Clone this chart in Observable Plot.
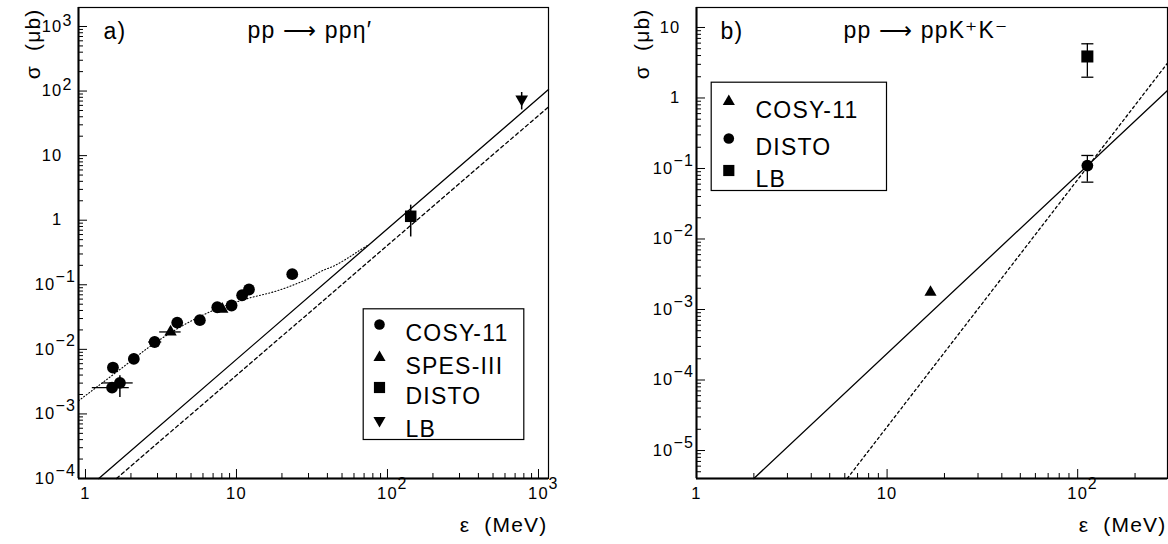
<!DOCTYPE html>
<html><head><meta charset="utf-8">
<script src="https://cdn.jsdelivr.net/npm/d3@7"></script>
<script src="https://cdn.jsdelivr.net/npm/@observablehq/plot@0.6"></script>
<style>
html,body{margin:0;padding:0;background:#fff;}
#wrap{display:flex;width:1168px;height:544px;}
#wrap svg{display:block;}
#wrap svg text{letter-spacing:1.2px;}
</style></head><body><div id="wrap"></div>
<script>
// ================= Panel a: pp -> pp eta' =================
const cosyA_eps   = [1.50, 1.52, 1.69, 2.09, 2.87, 4.05, 5.72, 7.46, 9.28, 10.9, 12.1, 23.4];
const cosyA_sig   = [0.00256, 0.00523, 0.00302, 0.00711, 0.0130, 0.0260, 0.0283, 0.0449, 0.0478, 0.0689, 0.0845, 0.146];
const cosyA_epsLo = [1.11, null, 1.29, null, 2.62, null, null, null, null, null, null, null];
const cosyA_epsHi = [1.95, null, 2.07, null, 3.20, null, null, null, null, null, null, null];
const cosyA_sigLo = [null, null, 0.0018, 0.0060, 0.0106, null, null, null, null, null, null, null];
const cosyA_sigHi = [null, null, 0.0039, 0.0085, 0.0155, null, null, null, null, null, null, null];

const spesA_eps   = [3.66, 8.05];
const spesA_sig   = [0.0186, 0.0420];
const spesA_epsLo = [3.10, null];
const spesA_epsHi = [4.30, null];

const distoA_eps = [142.5];
const distoA_sig = [1.15];
const distoA_lo  = [0.55];
const distoA_hi  = [1.71];

const lbA_eps = [774];
const lbA_sig = [74.8];
const lbA_lo  = [51];
const lbA_hi  = [95];

const solidA_eps  = [1.225, 1165];
const solidA_sig  = [1e-4, 105.7];
const dashedA_eps = [1.605, 1165];
const dashedA_sig = [1e-4, 56.9];
const dottedA_eps = [0.9, 1.79, 2.56, 4.26, 7.08, 11.8, 19, 24, 30, 36, 45, 54, 64, 74];
const dottedA_sig = [0.0016, 0.0054, 0.0103, 0.0223, 0.0404, 0.061, 0.082, 0.100, 0.125, 0.160, 0.200, 0.255, 0.330, 0.410];

const xDomainA = [0.899, 1165];
const yDomainA = [1e-4, 1968];
const xTicksA = [1, 10, 100, 1000];
const xTickBaseA = ["1", "10", "10", "10"];
const xTickSupA  = ["", "", "2", "3"];
const yTicksA = [1e-4, 1e-3, 1e-2, 1e-1, 1, 10, 100, 1000];
const yTickBaseA = ["10", "10", "10", "10", "1", "10", "10", "10"];
const yTickSupA  = ["−4", "−3", "−2", "−1", "", "", "2", "3"];
const legendA_labels = ["COSY-11", "SPES-III", "DISTO", "LB"];
const titleA = "pp ⟶ ppη′";
const tagA = "a)";

// ================= Panel b: pp -> pp K+ K- =================
const cosyB_eps = [16.9];
const cosyB_sig = [0.00176];
const distoB_eps = [112.4];
const distoB_sig = [0.110];
const distoB_lo  = [0.064];
const distoB_hi  = [0.153];
const lbB_eps = [112.4];
const lbB_sig = [3.88];
const lbB_lo  = [1.97];
const lbB_hi  = [5.87];

const solidB_eps  = [2.0, 296];
const solidB_sig  = [4.01e-6, 1.28];
const dashedB_eps = [6.18, 296];
const dashedB_sig = [4.01e-6, 3.12];

const xDomainB = [1, 296];
const yDomainB = [4.01e-6, 19.2];
const xTicksB = [1, 10, 100];
const xTickBaseB = ["1", "10", "10"];
const xTickSupB  = ["", "", "2"];
const yTicksB = [1e-5, 1e-4, 1e-3, 1e-2, 1e-1, 1, 10];
const yTickBaseB = ["10", "10", "10", "10", "10", "1", "10"];
const yTickSupB  = ["−5", "−4", "−3", "−2", "−1", "", ""];
const legendB_labels = ["COSY-11", "DISTO", "LB"];
const titleB = "pp ⟶ ppK⁺K⁻";
const tagB = "b)";

// ================= helpers =================
const FONT = "'Liberation Sans', Arial, Helvetica, sans-serif";
const rows = (xs, ys) => xs.map((x, i) => ({x, y: ys[i]}));
const triDown = {
  draw(ctx, size) {
    const y = Math.sqrt(size / (Math.sqrt(3) * 3));
    ctx.moveTo(0, 2 * y);
    ctx.lineTo(-Math.sqrt(3) * y, -y);
    ctx.lineTo(Math.sqrt(3) * y, -y);
    ctx.closePath();
  }
};
const capSym = {
  draw(ctx, size) {
    const w = Math.sqrt(size);
    ctx.moveTo(-w, 0);
    ctx.lineTo(w, 0);
  }
};
function minorTicks([lo, hi]) {
  const out = [];
  for (let e = Math.floor(Math.log10(lo)); e <= Math.ceil(Math.log10(hi)); e++) {
    for (let k = 2; k <= 9; k++) {
      const v = k * Math.pow(10, e);
      if (v > lo && v < hi) out.push(v);
    }
  }
  return out;
}

function panel(cfg) {
  const W = 584, H = 544;
  const FW = W - cfg.ml - cfg.mr, FH = H - cfg.mt - cfg.mb;
  const yl = cfg.yTicks.map((v, i) => ({v, base: cfg.yBase[i], sup: cfg.ySup[i], neg: cfg.ySup[i].startsWith("−")}));
  const xl = cfg.xTicks.map((v, i) => ({v, base: cfg.xBase[i], sup: cfg.xSup[i]}));
  const marks = [
    // frame
    Plot.frame({stroke: "black", strokeWidth: 1.2}),
    Plot.ruleX([cfg.xDomain[0]], {stroke: "black", strokeWidth: 2}),
    Plot.ruleY([cfg.yDomain[0]], {stroke: "black", strokeWidth: 2}),
    // inward ticks
    Plot.tickY(cfg.yTicks, {y: d => d, insetRight: FW - 9, stroke: "black", strokeWidth: 1}),
    Plot.tickY(minorTicks(cfg.yDomain), {y: d => d, insetRight: FW - 5, stroke: "black", strokeWidth: 1}),
    Plot.tickX(cfg.xTicks, {x: d => d, insetTop: FH - 9, stroke: "black", strokeWidth: 1}),
    Plot.tickX(minorTicks(cfg.xDomain), {x: d => d, insetTop: FH - 5, stroke: "black", strokeWidth: 1}),
    // tick labels
    Plot.text(yl.filter(d => !d.neg), {y: "v", text: "base", frameAnchor: "left", dx: -16, textAnchor: "end", fontSize: 16.5}),
    Plot.text(yl.filter(d => d.neg), {y: "v", text: "base", frameAnchor: "left", dx: -23, textAnchor: "end", fontSize: 16.5}),
    Plot.text(yl.filter(d => d.sup && !d.neg), {y: "v", text: "sup", frameAnchor: "left", dx: -16, dy: -6, textAnchor: "start", fontSize: 16}),
    Plot.text(yl.filter(d => d.neg), {y: "v", text: "sup", frameAnchor: "left", dx: -23, dy: -8, textAnchor: "start", fontSize: 16}),
    Plot.text(xl, {x: "v", text: "base", frameAnchor: "bottom", dy: 20, textAnchor: "middle", fontSize: 16.5}),
    Plot.text(xl.filter(d => d.sup), {x: "v", text: "sup", frameAnchor: "bottom", dx: 10, dy: 10, textAnchor: "start", fontSize: 16}),
    // axis titles
    Plot.text(["ε  (MeV)"], {text: d => d, frameAnchor: "bottom-right", dx: -1, dy: 53, textAnchor: "end", fontSize: 21}),
    Plot.text(["σ  (μb)"], {text: d => d, frameAnchor: "top-left", dx: cfg.ylabDx, dy: 1, rotate: -90, textAnchor: "end", fontSize: 21}),
    // titles
    Plot.text([cfg.tag], {text: d => d, frameAnchor: "top-left", dx: cfg.tagDx, dy: 31, lineAnchor: "bottom", textAnchor: "start", fontSize: 23}),
    Plot.text([cfg.title], {text: d => d, frameAnchor: "top-left", dx: cfg.titleDx, dy: 30, lineAnchor: "bottom", textAnchor: "start", fontSize: 23}),
    ...cfg.dataMarks,
    // legend
    Plot.frame({stroke: "black", strokeWidth: 1.2, ...cfg.legendBox}),
    ...cfg.legend.flatMap(e => [
      Plot.dot([0], {frameAnchor: "top-left", dx: cfg.legendMarkDx, dy: e.dy, symbol: e.symbol, r: e.r, fill: "black", stroke: "none"}),
      Plot.text([e.label], {text: d => d, frameAnchor: "top-left", dx: cfg.legendTextDx, dy: e.dy, textAnchor: "start", fontSize: 23})
    ])
  ];
  return Plot.plot({
    width: W, height: H,
    marginLeft: cfg.ml, marginRight: cfg.mr, marginTop: cfg.mt, marginBottom: cfg.mb,
    x: {type: "log", domain: cfg.xDomain, axis: null},
    y: {type: "log", domain: cfg.yDomain, axis: null},
    style: {fontFamily: FONT, fontSize: "16px", background: "white", color: "black", overflow: "visible"},
    marks
  });
}

// ---- panel a marks
const cosyA = cosyA_eps.map((x, i) => ({x, y: cosyA_sig[i], xl: cosyA_epsLo[i], xh: cosyA_epsHi[i], yl: cosyA_sigLo[i], yh: cosyA_sigHi[i]}));
const spesA = spesA_eps.map((x, i) => ({x, y: spesA_sig[i], xl: spesA_epsLo[i], xh: spesA_epsHi[i]}));
const distoA = distoA_eps.map((x, i) => ({x, y: distoA_sig[i], yl: distoA_lo[i], yh: distoA_hi[i]}));
const lbA = lbA_eps.map((x, i) => ({x, y: lbA_sig[i], yl: lbA_lo[i], yh: lbA_hi[i]}));

const dataA = [
  Plot.line(rows(dottedA_eps, dottedA_sig), {x: "x", y: "y", curve: "monotone-x", stroke: "black", strokeWidth: 1.1, strokeDasharray: "1,2.2"}),
  Plot.line(rows(solidA_eps, solidA_sig), {x: "x", y: "y", stroke: "black", strokeWidth: 1.3}),
  Plot.line(rows(dashedA_eps, dashedA_sig), {x: "x", y: "y", stroke: "black", strokeWidth: 1.3, strokeDasharray: "3.5,3"}),
  Plot.ruleY([...cosyA, ...spesA].filter(d => d.xl != null), {y: "y", x1: "xl", x2: "xh", stroke: "black", strokeWidth: 1.3}),
  Plot.ruleX([...cosyA, ...distoA, ...lbA].filter(d => d.yl != null), {x: "x", y1: "yl", y2: "yh", stroke: "black", strokeWidth: 1.5}),
  Plot.dot(cosyA, {x: "x", y: "y", symbol: "circle", r: 5.9, fill: "black", stroke: "none"}),
  Plot.dot(spesA, {x: "x", y: "y", symbol: "triangle", r: 4.6, fill: "black", stroke: "none"}),
  Plot.dot(distoA, {x: "x", y: "y", symbol: "square", r: 6.5, fill: "black", stroke: "none"}),
  Plot.dot(lbA, {x: "x", y: "y", symbol: triDown, r: 4.7, fill: "black", stroke: "none"})
];

const legendSymA = ["circle", "triangle", "square", triDown];
const legendRA = [5.3, 4.5, 6.3, 4.5];
const legendDyA = [317, 350, 380, 413];

document.getElementById("wrap").append(panel({
  ml: 78, mr: 36, mt: 7, mb: 66,
  xDomain: xDomainA, yDomain: yDomainA,
  xTicks: xTicksA, xBase: xTickBaseA, xSup: xTickSupA,
  yTicks: yTicksA, yBase: yTickBaseA, ySup: yTickSupA,
  ylabDx: -53, tag: tagA, tagDx: 25, title: titleA, titleDx: 169,
  dataMarks: dataA,
  legendBox: {insetLeft: 284.7, insetRight: 24.7, insetTop: 301.3, insetBottom: 39},
  legendMarkDx: 301, legendTextDx: 327,
  legend: legendA_labels.map((label, i) => ({label, symbol: legendSymA[i], r: legendRA[i], dy: legendDyA[i]}))
}));

// ---- panel b marks
const cosyB = rows(cosyB_eps, cosyB_sig);
const distoB = distoB_eps.map((x, i) => ({x, y: distoB_sig[i], yl: distoB_lo[i], yh: distoB_hi[i]}));
const lbB = lbB_eps.map((x, i) => ({x, y: lbB_sig[i], yl: lbB_lo[i], yh: lbB_hi[i]}));
const errB = [...distoB, ...lbB];

const dataB = [
  Plot.line(rows(solidB_eps, solidB_sig), {x: "x", y: "y", stroke: "black", strokeWidth: 1.3}),
  Plot.line(rows(dashedB_eps, dashedB_sig), {x: "x", y: "y", stroke: "black", strokeWidth: 1.3, strokeDasharray: "2.5,3"}),
  Plot.ruleX(errB, {x: "x", y1: "yl", y2: "yh", stroke: "black", strokeWidth: 1.3}),
  Plot.dot(errB, {x: "x", y: "yl", symbol: capSym, r: 3.4, stroke: "black", strokeWidth: 1.3, fill: "none"}),
  Plot.dot(errB, {x: "x", y: "yh", symbol: capSym, r: 3.4, stroke: "black", strokeWidth: 1.3, fill: "none"}),
  Plot.dot(cosyB, {x: "x", y: "y", symbol: "triangle", r: 4.5, fill: "black", stroke: "none"}),
  Plot.dot(distoB, {x: "x", y: "y", symbol: "circle", r: 5.9, fill: "black", stroke: "none"}),
  Plot.dot(lbB, {x: "x", y: "y", symbol: "square", r: 6.8, fill: "black", stroke: "none"})
];

const legendSymB = ["triangle", "circle", "square"];
const legendRB = [4.5, 5.3, 6.3];
const legendDyB = [94, 131, 163];

document.getElementById("wrap").append(panel({
  ml: 112, mr: 1, mt: 7, mb: 66,
  xDomain: xDomainB, yDomain: yDomainB,
  xTicks: xTicksB, xBase: xTickBaseB, xSup: xTickSupB,
  yTicks: yTicksB, yBase: yTickBaseB, ySup: yTickSupB,
  ylabDx: -62, tag: tagB, tagDx: 24, title: titleB, titleDx: 147,
  dataMarks: dataB,
  legendBox: {insetLeft: 14.7, insetRight: 281, insetTop: 74.7, insetBottom: 288},
  legendMarkDx: 32.3, legendTextDx: 59,
  legend: legendB_labels.map((label, i) => ({label, symbol: legendSymB[i], r: legendRB[i], dy: legendDyB[i]}))
}));
</script>
</body></html>
